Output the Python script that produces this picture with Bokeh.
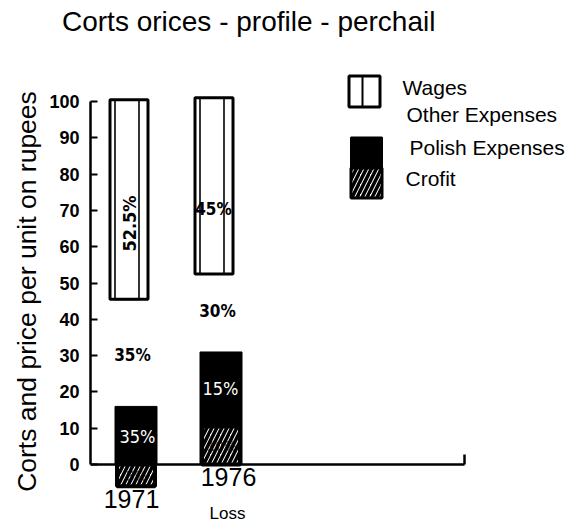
from math import pi
from bokeh.plotting import figure
from bokeh.layouts import column
from bokeh.models import Range1d, FixedTicker, Div
from bokeh.core.properties import value
from bokeh.embed import file_html
from bokeh.resources import INLINE

# ---------------- data ----------------
years = ["1971", "1976"]
wages_bottom = [45.5, 52.5]
wages_top = [100.5, 101.0]
polish_top = [16.0, 31.0]
profit = [-6.0, 10.5]
wages_labels = ["52.5%", "45%"]
other_labels = ["35%", "30%"]
polish_labels = ["35%", "15%"]
profit_labels = ["5%", "10%"]
y_ticks = [0, 10, 20, 30, 40, 50, 60, 70, 80, 90, 100]
legend_labels = ["Wages", "Other Expenses", "Polish Expenses", "Crofit"]
title_text = "Corts orices - profile - perchail"
y_title = "Corts and price per unit on rupees"
x_note = "Loss"

# ---------------- layout ----------------
W = 566
TH = 44              # height of the title strip
H = 524 - TH         # height of the chart figure
LEFT = 90            # frame left (page px)
TOP = 58             # frame top (page px)
PX = 85.0            # px per year slot
PY = 3.63            # px per value unit
X0 = 128.5           # page x of first slot
Y0 = 464.0           # page y of value 0


def sx(px):
    return (px - X0) / PX


def sy(py):
    return (Y0 - py) / PY


def dw(px):
    return px / PX


def dh(px):
    return px / PY


xs = list(range(len(years)))

FONT = value("Liberation Sans")
NARROW = value("DejaVu Sans Condensed")

# ---------------- title strip ----------------
title_html = (
    '<div style="margin:0;padding:0 0 0 62px;height:%dpx;line-height:%dpx;'
    'font-family:\'Liberation Sans\',Arial,sans-serif;font-size:28px;'
    'color:black;white-space:nowrap;">%s</div>' % (TH, TH, title_text)
)
t = Div(text=title_html, width=W, height=TH, margin=0)

# ---------------- chart ----------------
p = figure(width=W, height=H, output_backend="svg", toolbar_location=None,
           x_axis_type=None, x_range=Range1d(sx(LEFT), sx(W)),
           y_range=Range1d(sy(524), sy(TOP)),
           min_border_left=LEFT, min_border_right=0, min_border_top=TOP - TH,
           min_border_bottom=0, margin=0)
p.outline_line_color = None
p.grid.grid_line_color = None
p.background_fill_color = "white"
p.border_fill_color = "white"

ax = p.yaxis[0]
ax.ticker = FixedTicker(ticks=y_ticks)
ax.bounds = (0, 100)
ax.major_tick_in = 7
ax.major_tick_out = 0
ax.minor_tick_in = 0
ax.minor_tick_out = 0
ax.axis_line_width = 2.5
ax.axis_line_color = "black"
ax.major_tick_line_width = 2
ax.major_tick_line_color = "black"
ax.major_label_standoff = 11
ax.major_label_text_font = "Liberation Sans"
ax.major_label_text_font_style = "bold"
ax.major_label_text_font_size = "18px"
ax.major_label_text_color = "black"
ax.axis_label = y_title
ax.axis_label_text_font = "Liberation Sans"
ax.axis_label_text_font_style = "normal"
ax.axis_label_text_font_size = "26.5px"
ax.axis_label_text_color = "black"
ax.axis_label_standoff = 4

# ---------------- bars ----------------
p.vbar(x=xs, width=dw(38), bottom=wages_bottom, top=wages_top,
       fill_color="white", line_color="black", line_width=3)
p.vbar(x=[x + dw(-2) for x in xs], width=dw(24), bottom=wages_bottom,
       top=wages_top, fill_color=None, line_color="black", line_width=1.6)

bx = [x + dw(7) for x in xs]
p.vbar(x=bx, width=dw(42), bottom=0, top=polish_top,
       fill_color="black", line_color="black", line_width=1)
p.vbar(x=bx, width=dw(38), bottom=0, top=profit,
       fill_color="white", line_color="black", line_width=4,
       hatch_pattern="/", hatch_color="black", hatch_scale=10,
       hatch_weight=3.5)

# x axis line with end tick
p.segment(x0=[sx(LEFT)], y0=[0], x1=[sx(464)], y1=[0],
          line_color="black", line_width=2.5)
p.segment(x0=[sx(464)], y0=[0], x1=[sx(464)], y1=[dh(10)],
          line_color="black", line_width=2.5)

# ---------------- labels on bars ----------------
p.text(x=[xs[0] + dw(0.5)], y=[sy(223)], text=[wages_labels[0]], angle=pi / 2,
       text_font=NARROW, text_font_style="bold", text_font_size="18px",
       text_align="center", text_baseline="middle", text_color="black")
p.text(x=[xs[1] + dw(-0.5)], y=[sy(208)], text=[wages_labels[1]],
       text_font=NARROW, text_font_style="bold", text_font_size="17px",
       text_align="center", text_baseline="middle", text_color="black")
p.text(x=[x + dw(3.5) for x in xs], y=[sy(354), sy(310)], text=other_labels,
       text_font=NARROW, text_font_style="bold", text_font_size="17px",
       text_align="center", text_baseline="middle", text_color="black")
p.text(x=[xs[0] + dw(8.5), xs[1] + dw(6.5)], y=[sy(436), sy(388)],
       text=polish_labels, text_font=NARROW, text_font_size="18px",
       text_align="center", text_baseline="middle", text_color="white")
p.text(x=[x + dw(7.5) for x in xs], y=[sy(475), sy(445)], text=profit_labels,
       text_font=NARROW, text_font_style="bold", text_font_size="14px",
       text_align="center", text_baseline="middle", text_color="black",
       text_alpha=0.6)

# ---------------- category labels ----------------
p.text(x=[xs[0] + dw(2.5)], y=[sy(498)], text=[years[0]], text_font=FONT,
       text_font_size="25px", text_align="center", text_baseline="middle",
       text_color="black")
p.text(x=[xs[1] + dw(14.5)], y=[sy(476)], text=[years[1]], text_font=FONT,
       text_font_size="25px", text_align="center", text_baseline="middle",
       text_color="black")
p.text(x=[xs[1] + dw(13.5)], y=[sy(513)], text=[x_note], text_font=FONT,
       text_font_size="17px", text_align="center", text_baseline="middle",
       text_color="black")

# ---------------- legend ----------------
p.rect(x=[sx(364)], y=[sy(91)], width=dw(31), height=dh(31),
       fill_color="white", line_color="black", line_width=3)
p.segment(x0=[sx(362)], y0=[sy(76)], x1=[sx(362)], y1=[sy(106)],
          line_color="black", line_width=2)
p.rect(x=[sx(366)], y=[sy(152)], width=dw(31), height=dh(30),
       fill_color="black", line_color="black", line_width=2)
p.rect(x=[sx(366)], y=[sy(182.5)], width=dw(31), height=dh(30),
       fill_color="white", line_color="black", line_width=3,
       hatch_pattern="/", hatch_color="black", hatch_scale=10,
       hatch_weight=3.5)
p.text(x=[sx(402), sx(406), sx(409), sx(405)],
       y=[sy(87), sy(114), sy(147), sy(178)], text=legend_labels,
       text_font=FONT, text_font_size="21px", text_align="left",
       text_baseline="middle", text_color="black")

layout = column(t, p, spacing=0)
open("out.html", "w").write(file_html(layout, INLINE))
